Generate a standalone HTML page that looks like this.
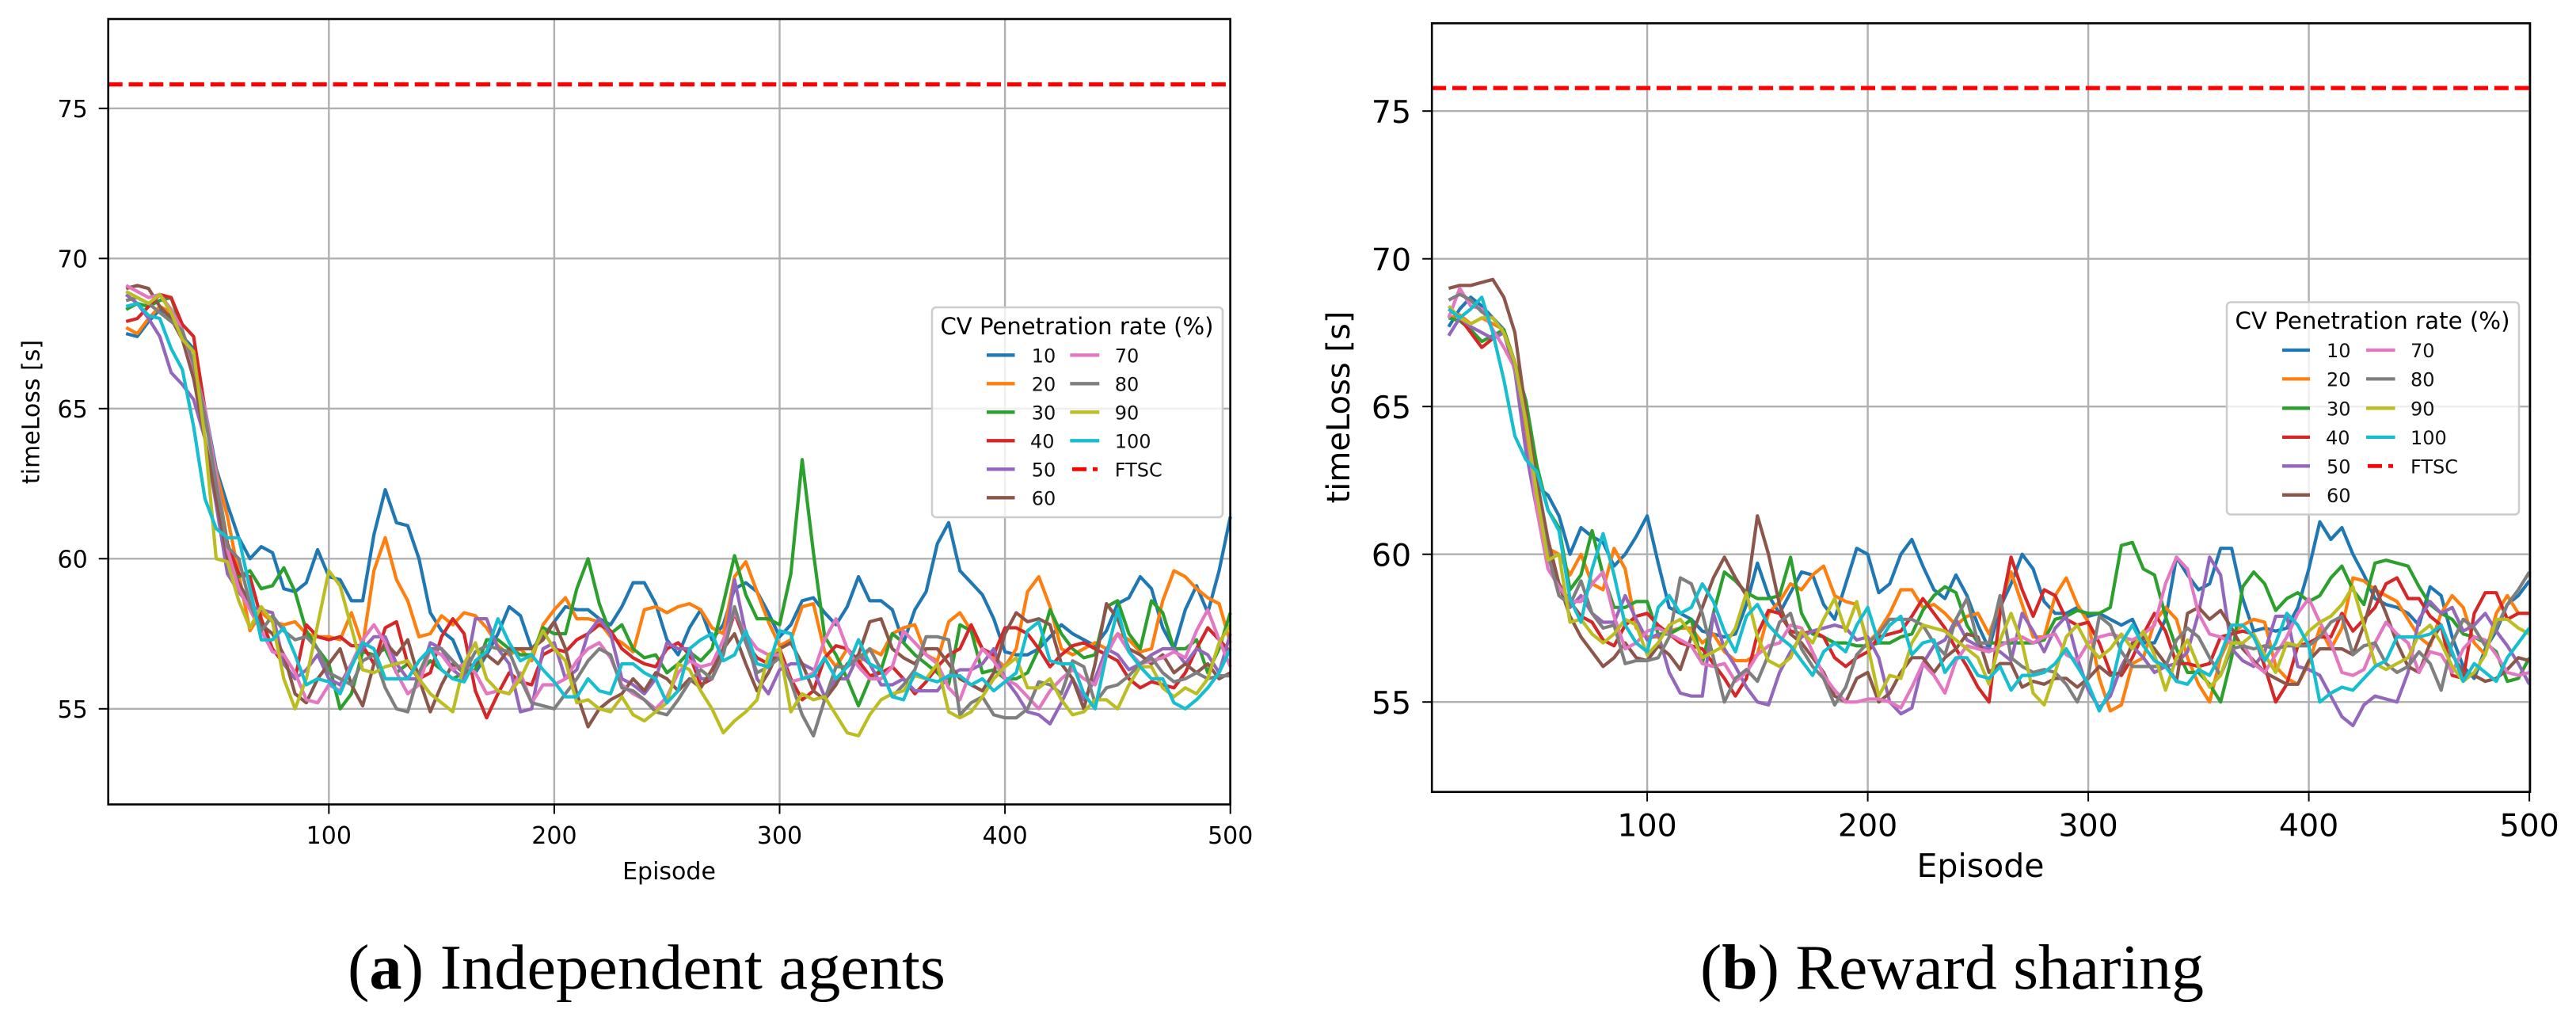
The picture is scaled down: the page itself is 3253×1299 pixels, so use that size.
<!DOCTYPE html>
<html lang="en">
<head>
<meta charset="utf-8">
<title>timeLoss per episode: Independent agents and Reward sharing</title>
<style>
html,body{margin:0;padding:0;background:#fff;}
svg{display:block;}
text{font-family:"DejaVu Sans","Liberation Sans",sans-serif;fill:#000;}
.caption{font-family:"Liberation Serif",serif;font-size:80px;}
.ent-a{font-size:24px;fill:#111;}
.ent-b{font-size:24px;fill:#111;}
</style>
</head>
<body>
<svg id="figure" xmlns="http://www.w3.org/2000/svg" width="3253" height="1299" viewBox="0 0 3253 1299">
  <rect x="0" y="0" width="3253" height="1299" fill="#ffffff"/>
  <g id="chart-a"></g>
  <g id="chart-b"></g>

  <text x="845" y="1110" font-size="30" text-anchor="middle">Episode</text>
  <text transform="translate(41,520) rotate(-90)" font-size="30" text-anchor="middle" dominant-baseline="middle">timeLoss [s]</text>
  <text x="2501" y="1107" font-size="41" text-anchor="middle">Episode</text>
  <text transform="translate(1693,514) rotate(-90)" font-size="40" text-anchor="middle" dominant-baseline="middle">timeLoss [s]</text>

  <g>
    <rect x="1177" y="388" width="367" height="265" rx="5" fill="#ffffff" fill-opacity="0.8" stroke="#cccccc" stroke-width="2.5"/>
    <text x="1360" y="422" font-size="29" text-anchor="middle" textLength="345" lengthAdjust="spacingAndGlyphs">CV Penetration rate (%)</text>
    <g><line x1="1246" x2="1281.5" y1="448.3" y2="448.3" stroke="#1f77b4" stroke-width="4.3"/><text class="ent-a" x="1302.7" y="457.3">10</text></g>
    <g><line x1="1246" x2="1281.5" y1="484.3" y2="484.3" stroke="#ff7f0e" stroke-width="4.3"/><text class="ent-a" x="1302.7" y="493.3">20</text></g>
    <g><line x1="1246" x2="1281.5" y1="520.3" y2="520.3" stroke="#2ca02c" stroke-width="4.3"/><text class="ent-a" x="1302.7" y="529.3">30</text></g>
    <g><line x1="1246" x2="1281.5" y1="556.3" y2="556.3" stroke="#d62728" stroke-width="4.3"/><text class="ent-a" x="1301" y="565.3">40</text></g>
    <g><line x1="1246" x2="1281.5" y1="592.3" y2="592.3" stroke="#9467bd" stroke-width="4.3"/><text class="ent-a" x="1302.7" y="601.3">50</text></g>
    <g><line x1="1246" x2="1281.5" y1="628.3" y2="628.3" stroke="#8c564b" stroke-width="4.3"/><text class="ent-a" x="1302.7" y="637.3">60</text></g>
    <g><line x1="1351.3" x2="1388.3" y1="448.3" y2="448.3" stroke="#e377c2" stroke-width="4.3"/><text class="ent-a" x="1407.7" y="457.3">70</text></g>
    <g><line x1="1351.3" x2="1388.3" y1="484.3" y2="484.3" stroke="#7f7f7f" stroke-width="4.3"/><text class="ent-a" x="1407.7" y="493.3">80</text></g>
    <g><line x1="1351.3" x2="1388.3" y1="520.3" y2="520.3" stroke="#bcbd22" stroke-width="4.3"/><text class="ent-a" x="1407.7" y="529.3">90</text></g>
    <g><line x1="1351.3" x2="1388.3" y1="556.3" y2="556.3" stroke="#17becf" stroke-width="4.3"/><text class="ent-a" x="1407.7" y="565.3">100</text></g>
    <g><line x1="1354" x2="1386" y1="592.3" y2="592.3" stroke="#ff0000" stroke-width="4.8" stroke-dasharray="18,8"/><text class="ent-a" x="1407.7" y="601.3">FTSC</text></g>
  </g>

  <g>
    <rect x="2812" y="381.5" width="369" height="268" rx="5" fill="#ffffff" fill-opacity="0.8" stroke="#cccccc" stroke-width="2.5"/>
    <text x="2996" y="415" font-size="29" text-anchor="middle" textLength="347" lengthAdjust="spacingAndGlyphs">CV Penetration rate (%)</text>
    <g><line x1="2882" x2="2917" y1="442" y2="442" stroke="#1f77b4" stroke-width="4.3"/><text class="ent-b" x="2938" y="451">10</text></g>
    <g><line x1="2882" x2="2917" y1="478.4" y2="478.4" stroke="#ff7f0e" stroke-width="4.3"/><text class="ent-b" x="2938" y="487.4">20</text></g>
    <g><line x1="2882" x2="2917" y1="515.3" y2="515.3" stroke="#2ca02c" stroke-width="4.3"/><text class="ent-b" x="2938" y="524.3">30</text></g>
    <g><line x1="2882" x2="2917" y1="551.9" y2="551.9" stroke="#d62728" stroke-width="4.3"/><text class="ent-b" x="2937" y="560.9">40</text></g>
    <g><line x1="2882" x2="2917" y1="588.3" y2="588.3" stroke="#9467bd" stroke-width="4.3"/><text class="ent-b" x="2938" y="597.3">50</text></g>
    <g><line x1="2882" x2="2917" y1="624.8" y2="624.8" stroke="#8c564b" stroke-width="4.3"/><text class="ent-b" x="2938" y="633.8">60</text></g>
    <g><line x1="2988" x2="3024.6" y1="442" y2="442" stroke="#e377c2" stroke-width="4.3"/><text class="ent-b" x="3044" y="451">70</text></g>
    <g><line x1="2988" x2="3024.6" y1="478.4" y2="478.4" stroke="#7f7f7f" stroke-width="4.3"/><text class="ent-b" x="3044" y="487.4">80</text></g>
    <g><line x1="2988" x2="3024.6" y1="515.3" y2="515.3" stroke="#bcbd22" stroke-width="4.3"/><text class="ent-b" x="3044" y="524.3">90</text></g>
    <g><line x1="2988" x2="3024.6" y1="551.9" y2="551.9" stroke="#17becf" stroke-width="4.3"/><text class="ent-b" x="3044" y="560.9">100</text></g>
    <g><line x1="2990" x2="3022" y1="588.3" y2="588.3" stroke="#ff0000" stroke-width="4.8" stroke-dasharray="18,8"/><text class="ent-b" x="3044" y="597.3">FTSC</text></g>
  </g>

  <text class="caption" x="439" y="1248" textLength="755" lengthAdjust="spacingAndGlyphs">(<tspan font-weight="bold">a</tspan>) Independent agents</text>
  <text class="caption" x="2147" y="1248" textLength="636" lengthAdjust="spacingAndGlyphs">(<tspan font-weight="bold">b</tspan>) Reward sharing</text>
</svg>

<script>
// Shared axis values
const xTickLabels = [100, 200, 300, 400, 500];
const yTickLabels = [55, 60, 65, 70, 75];
const seriesNames = ["10", "20", "30", "40", "50", "60", "70", "80", "90", "100"];
const seriesColors = ["#1f77b4", "#ff7f0e", "#2ca02c", "#d62728", "#9467bd", "#8c564b", "#e377c2", "#7f7f7f", "#bcbd22", "#17becf"];
const firstEpisode = 10;
const episodeStep = 5;
const ftscA = 75.8;
const ftscB = 75.78;

// (a) Independent agents: timeLoss sampled every 5 episodes from episode 10
const a10 = [67.5,67.4,67.9,68.3,68.1,67.4,67.0,65.0,63.0,61.8,60.7,60.0,60.4,60.2,59.0,58.9,59.2,60.3,59.4,
59.3,58.6,58.6,60.8,62.3,61.2,61.1,60.0,58.2,57.6,57.3,56.4,56.2,56.8,57.5,58.4,58.1,57.0,57.4,57.9,
58.4,58.3,58.3,58.0,57.8,58.4,59.2,59.2,58.5,57.3,56.8,57.7,58.3,57.3,57.8,59.0,59.2,58.9,58.2,57.4,
57.8,58.6,58.7,58.2,57.8,58.4,59.4,58.6,58.6,58.3,57.2,58.3,58.9,60.5,61.2,59.6,59.2,58.8,58.0,56.9,
56.8,56.8,57.0,57.4,57.8,57.5,57.3,57.1,57.6,58.5,58.7,59.4,59.0,57.7,57.0,58.3,59.1,58.2,59.6,61.4];
const a20 = [67.7,67.5,68.0,68.4,68.2,67.5,66.5,64.7,62.9,61.4,59.5,57.6,58.2,57.9,57.8,57.9,57.5,57.4,57.4,
57.3,58.2,57.1,59.6,60.7,59.3,58.6,57.4,57.5,58.1,57.8,58.2,58.1,57.7,57.1,56.8,57.0,56.6,57.8,58.3,
58.7,58.0,58.0,57.9,57.4,57.2,56.9,58.3,58.4,58.2,58.4,58.5,58.3,57.7,57.5,59.4,59.9,58.9,57.9,57.1,
57.3,58.4,58.5,56.9,56.4,57.0,56.5,57.0,56.8,57.5,57.7,57.8,56.8,56.6,57.9,58.2,57.6,57.0,56.7,56.4,
57.0,58.9,59.4,58.4,57.0,56.8,57.0,57.2,57.0,57.5,57.3,56.9,57.0,58.6,59.6,59.4,59.0,58.7,58.5,57.2];
const a30 = [68.3,68.5,68.4,68.6,68.7,67.6,66.3,64.7,62.8,60.5,59.4,59.6,59.0,59.1,59.7,58.9,57.6,57.0,56.5,
55.0,55.5,56.9,56.8,57.0,56.2,56.5,56.2,56.6,56.3,56.0,56.2,56.3,57.3,57.3,57.0,56.8,56.8,57.7,57.5,
57.5,59.0,60.0,58.5,57.5,57.8,57.0,56.7,56.8,56.2,56.5,56.9,56.6,57.0,58.5,60.1,58.8,58.0,58.0,57.8,
59.5,63.3,60.2,57.4,56.8,56.0,55.1,56.0,56.3,57.5,57.2,56.8,56.5,56.2,55.8,57.8,57.6,56.2,56.3,56.0,
56.0,56.2,57.0,58.3,57.5,57.0,56.7,56.8,58.4,58.6,57.5,57.0,58.6,58.2,57.0,57.0,57.3,56.2,57.0,58.2];
const a40 = [67.9,68.0,68.4,68.8,68.7,67.8,67.4,65.0,62.5,60.5,59.5,59.4,58.0,57.0,56.5,56.0,57.8,57.4,57.3,
57.4,57.1,57.1,56.5,57.7,57.9,56.5,56.0,56.2,57.4,58.0,57.5,55.6,54.7,55.5,56.2,55.9,55.8,56.8,57.0,
56.9,57.3,57.5,57.8,57.6,57.0,56.7,56.5,56.4,57.0,57.2,56.8,55.8,56.0,57.0,58.2,57.2,56.7,56.5,57.0,
56.0,55.3,55.6,56.7,57.1,57.0,56.6,56.1,56.2,56.4,56.0,55.5,55.9,56.4,56.8,57.0,57.8,57.0,56.8,57.7,
57.7,57.5,57.0,56.4,56.8,57.1,57.2,57.0,56.8,56.6,56.0,55.7,55.9,55.8,55.7,56.2,57.0,57.7,57.3,56.9];
const a50 = [68.8,68.5,68.0,67.4,66.2,65.8,65.3,64.0,61.8,59.5,58.9,58.4,58.3,58.2,56.5,56.0,56.3,56.8,56.0,
55.8,56.5,57.0,57.4,57.4,56.5,56.0,56.0,57.2,57.0,56.3,56.0,58.0,58.0,57.0,56.5,54.9,55.0,57.0,57.2,
56.0,56.3,57.5,58.0,57.5,56.0,55.8,55.5,56.0,57.2,57.0,57.0,56.0,56.0,56.8,59.3,57.5,56.0,55.5,56.3,
56.5,56.5,56.3,55.4,56.0,56.0,56.8,56.5,55.8,55.8,56.0,55.6,55.6,55.6,56.1,56.3,56.3,56.5,57.0,56.0,
55.5,54.9,54.8,54.5,55.2,56.0,55.3,56.0,57.0,56.8,56.3,56.5,56.8,57.0,57.0,56.5,57.0,56.8,56.2,57.5];
const a60 = [69.0,69.1,69.0,68.4,68.0,67.3,66.0,64.0,62.0,60.0,59.2,58.5,57.8,57.5,56.8,55.5,55.2,56.0,56.5,
57.0,55.8,55.1,56.5,57.2,56.8,57.3,56.0,54.9,55.8,56.5,56.2,56.5,56.8,56.5,57.0,57.0,57.0,57.3,57.9,
57.0,55.5,54.4,55.0,55.3,55.5,56.0,55.6,56.2,56.0,55.6,56.0,55.7,56.3,57.0,57.5,56.5,55.6,56.2,57.0,
57.2,56.5,55.6,55.3,55.8,56.5,56.8,57.9,58.0,57.0,56.7,56.5,57.0,57.0,56.5,56.0,55.8,55.6,56.2,57.5,
58.2,57.9,58.0,57.8,56.5,56.0,55.0,56.5,58.5,58.0,57.0,56.8,56.5,56.8,56.2,56.5,56.2,56.5,56.0,56.2];
const a70 = [69.1,68.9,68.7,68.8,68.3,67.6,66.4,65.0,62.8,60.3,59.0,58.3,57.6,56.9,56.8,56.2,55.3,55.2,55.8,
55.6,56.5,57.3,57.8,57.2,56.2,55.5,55.8,57.0,56.8,56.3,56.5,56.2,55.5,55.6,55.5,56.2,55.2,55.8,55.8,
56.0,56.6,57.0,57.2,56.7,55.8,55.5,55.3,55.0,55.4,56.2,56.6,56.4,56.5,57.3,58.2,57.5,57.0,56.8,56.8,
55.9,56.0,56.2,57.3,58.0,57.0,56.4,56.0,56.0,56.4,57.6,57.2,56.8,56.5,55.7,55.3,56.3,57.0,56.6,56.0,
55.8,55.4,55.0,55.6,56.0,56.3,56.0,55.8,56.8,57.5,56.9,56.5,56.6,56.7,56.9,56.7,57.6,58.3,57.3,56.4];
const a80 = [68.6,68.7,68.5,68.2,67.9,67.6,66.5,64.8,62.5,60.4,60.0,58.5,57.6,58.1,57.6,57.3,57.4,57.0,56.2,
56.0,55.8,56.6,56.8,55.7,55.0,54.9,56.2,57.0,57.0,56.6,56.2,56.9,57.1,57.0,56.9,56.0,55.2,55.1,55.0,
55.5,56.0,56.6,57.0,56.8,55.7,55.6,55.3,54.9,54.8,55.3,55.9,56.3,56.0,56.8,58.4,57.2,56.2,56.4,56.7,
55.9,54.8,54.1,55.3,56.4,56.4,56.7,57.0,56.3,55.4,55.8,56.3,57.4,57.4,57.3,54.8,55.2,55.4,54.8,54.7,
54.7,55.0,55.9,55.8,55.5,56.6,56.4,55.2,55.7,55.8,56.1,56.5,56.7,56.2,55.9,56.0,56.2,56.0,56.1,56.1];
const a90 = [68.9,68.7,68.5,68.8,68.2,67.3,66.9,64.0,60.0,59.9,58.6,57.7,58.4,57.9,56.0,55.0,56.0,57.8,59.6,
59.1,57.7,56.3,56.2,56.4,56.5,56.6,56.0,55.5,55.2,54.9,56.5,57.2,56.0,55.6,55.5,56.0,56.8,57.6,57.0,
56.6,55.2,55.3,55.0,54.9,55.4,54.8,54.6,54.9,55.2,56.5,56.3,55.6,55.0,54.2,54.6,54.9,55.3,56.8,57.0,
54.9,55.5,55.3,55.4,54.8,54.2,54.1,54.8,55.3,55.5,55.6,56.1,56.0,56.5,54.9,54.7,54.9,55.4,56.0,56.4,
56.7,55.7,55.7,56.0,55.3,54.8,54.9,55.3,55.3,55.0,55.8,56.4,56.4,55.7,55.4,55.7,55.5,56.0,57.2,57.8];
const a100 = [68.4,68.5,68.1,68.0,67.0,66.3,64.4,62.0,61.0,60.7,60.7,59.0,57.3,57.3,57.7,56.8,55.8,56.0,55.9,
55.5,56.4,57.2,57.0,56.0,56.0,56.0,56.6,57.0,56.3,56.0,55.9,56.6,56.9,58.0,57.2,56.6,56.8,56.3,55.9,
55.4,55.4,56.0,55.6,55.5,56.5,56.5,56.2,56.0,55.2,55.6,57.0,57.3,57.5,56.6,56.8,57.6,56.5,56.4,57.6,
57.5,56.0,56.1,56.7,56.0,56.4,57.3,56.5,56.3,55.4,55.3,56.2,56.0,55.9,56.1,56.1,55.8,56.0,55.6,55.9,
56.2,57.6,57.9,56.6,56.5,56.5,55.5,55.0,56.8,58.3,56.9,56.4,56.0,56.0,55.2,55.0,55.3,55.7,56.2,57.0];

// (b) Reward sharing: timeLoss sampled every 5 episodes from episode 10
const b10 = [67.7,68.3,68.7,68.4,68.0,67.6,66.3,63.8,62.3,62.0,61.3,60.0,60.9,60.6,60.4,59.6,60.0,60.6,61.3,
59.7,58.2,58.0,57.8,57.4,57.3,57.2,57.3,58.3,59.7,58.6,58.0,58.7,59.4,59.3,58.3,57.8,59.0,60.2,60.0,
58.7,59.0,60.0,60.5,59.6,58.8,58.5,59.3,58.6,57.6,56.8,58.2,59.0,60.0,59.5,58.4,58.0,58.0,58.2,57.9,
58.0,57.8,57.6,57.8,57.0,57.0,57.8,59.9,59.3,58.8,59.0,60.2,60.2,58.5,57.4,57.5,57.4,57.5,58.2,59.5,
61.1,60.5,60.9,60.0,59.3,58.5,58.3,58.2,58.0,57.6,58.9,58.6,57.2,56.2,55.8,56.8,57.4,58.3,58.6,59.1];
const b20 = [68.0,68.1,67.8,68.0,67.8,67.6,66.5,64.0,61.5,60.2,60.0,59.3,60.0,59.0,58.8,60.2,59.5,57.5,57.2,
57.2,57.4,57.5,57.5,57.0,57.3,56.7,56.4,56.4,56.6,58.0,58.4,59.0,58.8,59.3,59.6,58.6,58.4,58.3,57.0,
57.4,58.0,58.8,58.8,58.2,58.3,58.0,57.6,57.9,58.0,57.3,58.3,59.4,58.3,57.2,57.2,58.6,59.2,58.3,57.7,
55.8,54.7,54.9,56.3,56.5,57.7,58.2,57.8,56.5,55.6,55.0,56.5,57.3,57.6,57.8,57.7,56.2,55.8,55.6,56.3,
57.5,56.8,57.5,59.2,59.1,58.8,58.6,58.4,57.8,57.2,56.9,58.0,58.6,58.2,57.0,56.6,58.0,58.6,58.0,58.0];
const b30 = [68.0,67.9,67.6,67.2,67.4,67.6,66.5,65.2,63.0,61.5,60.9,58.8,59.3,60.8,59.3,58.2,58.2,58.4,58.4,
57.3,57.3,57.5,57.8,56.3,58.0,59.4,59.1,58.7,58.5,58.5,58.6,59.9,58.0,57.3,57.2,57.0,57.0,56.9,56.9,
57.0,57.0,57.2,57.3,58.1,58.6,58.9,58.7,57.6,57.0,57.0,57.0,57.0,57.0,57.0,57.1,57.8,57.9,58.1,58.0,
58.0,58.2,60.3,60.4,59.5,59.3,57.9,56.8,56.0,56.0,55.6,55.0,56.5,58.9,59.4,59.0,58.1,58.5,58.7,58.4,
58.6,59.2,59.6,58.8,58.3,59.7,59.8,59.7,59.6,58.9,58.3,58.0,57.8,57.3,57.2,57.0,56.7,55.7,55.8,56.5];
const b40 = [68.3,68.0,67.5,67.0,67.3,67.5,66.5,64.5,61.5,60.0,59.0,58.4,57.9,57.7,57.1,56.9,57.6,57.9,58.0,
57.6,57.3,57.0,56.9,56.8,56.3,55.8,55.2,55.8,57.3,58.1,58.0,57.4,57.3,57.4,57.2,56.5,56.2,56.5,56.7,
57.2,57.3,57.4,57.9,58.5,58.0,57.5,56.8,56.2,55.5,55.0,58.0,59.9,58.8,57.9,58.8,58.6,57.8,57.6,57.7,
57.0,56.0,55.9,56.5,57.3,58.0,57.4,56.3,56.3,56.2,56.3,57.2,57.3,57.4,57.3,56.2,55.0,55.6,56.9,57.0,
57.2,57.2,58.0,57.4,57.8,58.2,59.0,59.2,58.5,58.5,57.9,57.6,55.9,55.8,58.0,58.7,58.7,57.8,58.0,58.0];
const b50 = [67.4,68.0,67.7,67.5,67.3,67.5,66.2,63.5,61.5,59.9,59.0,58.2,58.6,58.0,57.7,57.7,58.6,57.8,57.1,
57.3,56.0,55.3,55.2,55.2,58.0,56.8,56.2,55.5,55.0,54.9,56.0,56.7,57.2,57.4,57.5,57.6,57.5,57.1,57.2,
56.5,55.0,54.6,54.8,56.3,56.9,57.1,57.8,57.1,56.9,56.8,56.7,56.4,58.0,57.4,56.7,57.5,57.9,56.5,55.4,
54.8,55.2,56.2,56.9,56.5,56.0,56.2,56.3,56.7,58.0,59.9,59.3,56.8,56.4,56.2,56.7,57.9,57.9,56.2,56.1,
55.9,55.2,54.5,54.2,54.9,55.2,55.1,55.0,56.0,57.8,58.4,58.0,58.2,57.4,57.6,58.0,57.4,56.9,56.3,55.6];
const b60 = [69.0,69.1,69.1,69.2,69.3,68.7,67.5,64.8,62.5,60.5,59.0,57.9,57.2,56.7,56.2,56.5,57.0,56.5,56.4,
56.9,56.6,56.1,57.2,58.2,59.2,59.9,59.2,58.6,61.3,60.0,58.3,57.3,57.0,56.5,56.0,55.2,55.0,55.8,56.0,
55.0,55.3,56.0,56.5,56.5,56.0,56.5,56.8,57.3,57.2,56.0,56.3,56.3,55.5,55.7,55.6,55.8,55.8,55.5,55.8,
56.2,55.9,56.0,57.0,57.2,56.8,56.3,55.7,58.0,58.2,57.8,58.1,57.5,56.8,56.4,56.0,55.8,55.6,55.6,56.4,
56.8,56.8,56.8,56.6,57.6,58.9,58.0,57.0,56.2,56.0,57.0,57.6,56.6,56.0,55.9,55.7,55.8,56.1,56.5,56.4];
const b70 = [68.0,69.0,68.4,68.3,67.6,67.0,66.3,64.5,61.5,59.5,58.9,58.4,58.4,59.0,59.4,57.9,56.8,57.0,57.4,
57.5,57.3,57.1,56.9,56.3,56.2,56.3,55.7,56.0,56.6,56.9,57.0,57.6,57.5,56.7,55.9,55.4,55.0,55.0,55.1,
55.1,55.0,54.8,55.5,56.3,55.9,55.3,56.4,56.9,56.8,56.7,56.9,57.1,57.2,57.0,57.2,57.3,56.6,56.4,57.0,
57.2,57.3,57.2,57.1,57.3,57.6,59.0,59.9,59.5,58.0,57.3,57.2,57.0,57.0,56.3,56.0,56.6,57.2,58.0,58.5,
57.7,57.0,56.0,55.9,56.1,57.0,57.7,57.3,57.0,56.0,56.7,56.6,56.0,56.8,57.2,57.1,56.6,56.0,55.9,56.0];
const b80 = [68.6,68.8,68.6,68.2,68.0,67.5,66.4,64.5,62.0,60.0,58.6,58.3,59.1,58.0,57.5,57.6,56.3,56.4,56.4,
56.5,57.2,59.2,59.0,58.0,56.5,55.0,55.8,56.1,55.7,56.6,57.7,58.0,56.8,56.2,55.8,54.9,55.5,56.6,57.0,
57.3,57.8,57.8,57.8,57.6,57.0,56.6,57.8,58.5,57.0,57.0,58.6,56.5,56.2,56.0,56.1,56.0,55.6,55.0,55.9,
57.9,57.6,56.7,56.2,56.2,56.2,56.2,57.1,57.5,57.2,56.5,55.9,56.8,56.9,56.8,56.9,56.8,56.9,56.9,56.9,
57.2,57.7,57.9,56.6,56.9,57.0,56.3,56.0,56.2,56.7,56.3,55.4,57.0,57.8,57.5,56.9,57.5,58.3,58.8,59.4];
const b90 = [68.4,68.0,67.8,68.0,68.0,67.5,66.5,64.5,62.0,59.8,60.0,57.7,57.8,57.3,57.0,57.3,57.8,57.6,56.6,
57.0,57.6,57.8,57.3,56.5,56.7,56.9,57.5,58.7,57.2,56.4,56.2,56.5,57.4,57.0,57.8,58.5,57.4,58.4,56.9,
55.2,55.9,55.8,57.0,57.6,57.5,57.4,57.1,56.8,56.5,55.6,57.1,58.0,57.0,55.3,54.9,56.0,57.2,57.6,56.9,
56.5,56.8,57.3,56.8,57.4,56.6,55.4,56.5,57.1,56.2,55.5,55.9,57.0,57.0,57.3,56.6,56.0,57.0,56.9,57.4,
57.7,57.9,58.3,58.9,57.6,56.3,56.1,56.3,56.5,57.3,57.6,57.0,56.2,55.7,56.0,56.6,57.8,57.8,57.5,57.3];
const b100 = [68.3,68.0,68.3,68.7,67.5,65.9,64.0,63.2,62.8,61.5,60.8,58.5,57.7,59.5,60.7,59.3,57.6,57.0,56.7,
58.2,58.6,58.0,58.2,59.0,58.4,57.4,56.7,57.9,58.3,57.6,57.2,56.9,56.4,55.9,56.7,57.0,56.7,57.6,58.2,
57.0,57.6,57.9,56.6,57.0,57.1,56.0,56.5,56.5,55.9,55.8,56.2,55.4,55.9,55.9,56.0,56.3,56.8,56.2,55.6,
54.7,55.4,57.0,57.6,56.9,56.4,56.2,55.7,55.6,56.1,55.9,56.6,57.6,57.6,57.2,56.4,57.0,58.0,57.6,56.9,
55.0,55.3,55.5,55.4,55.8,56.2,56.4,57.2,57.2,57.2,57.3,57.6,56.7,55.7,56.3,56.0,55.7,56.5,57.0,57.5];

const seriesA = [a10, a20, a30, a40, a50, a60, a70, a80, a90, a100];
const seriesB = [b10, b20, b30, b40, b50, b60, b70, b80, b90, b100];

const SVGNS = "http://www.w3.org/2000/svg";

function drawChart(groupId, suffix, frame, series, ftsc) {
  const root = document.getElementById(groupId);
  const xs = function (episode) { return frame.x100 + (episode - 100) * frame.pxPerEpisode; };
  const ys = function (value) { return frame.y70 + (70 - value) * frame.pxPerUnit; };

  // grid lines and ticks
  xTickLabels.forEach(function (tick) {
    const px = xs(tick);
    const grid = document.createElementNS(SVGNS, "line");
    grid.setAttribute("x1", px); grid.setAttribute("x2", px);
    grid.setAttribute("y1", frame.top); grid.setAttribute("y2", frame.bottom);
    grid.setAttribute("stroke", "#b0b0b0"); grid.setAttribute("stroke-width", "2.4");
    
    
    root.appendChild(grid);
    const mark = document.createElementNS(SVGNS, "line");
    mark.setAttribute("x1", px); mark.setAttribute("x2", px);
    mark.setAttribute("y1", frame.bottom); mark.setAttribute("y2", frame.bottom + 12);
    mark.setAttribute("stroke", "#000"); mark.setAttribute("stroke-width", "2");
    
    
    root.appendChild(mark);
    const label = document.createElementNS(SVGNS, "text");
    label.setAttribute("x", px); label.setAttribute("y", frame.xLabelY);
    label.setAttribute("font-size", frame.tickFont); label.setAttribute("text-anchor", "middle");
    label.textContent = tick;
    
    
    root.appendChild(label);
  });
  yTickLabels.forEach(function (tick) {
    const py = ys(tick);
    const grid = document.createElementNS(SVGNS, "line");
    grid.setAttribute("x1", frame.left); grid.setAttribute("x2", frame.right);
    grid.setAttribute("y1", py); grid.setAttribute("y2", py);
    grid.setAttribute("stroke", "#b0b0b0"); grid.setAttribute("stroke-width", "2.4");
    
    
    root.appendChild(grid);
    const mark = document.createElementNS(SVGNS, "line");
    mark.setAttribute("x1", frame.left - 12); mark.setAttribute("x2", frame.left);
    mark.setAttribute("y1", py); mark.setAttribute("y2", py);
    mark.setAttribute("stroke", "#000"); mark.setAttribute("stroke-width", "2");
    
    
    root.appendChild(mark);
    const label = document.createElementNS(SVGNS, "text");
    label.setAttribute("x", frame.left - 26); label.setAttribute("y", py + frame.tickFont * 0.38);
    label.setAttribute("font-size", frame.tickFont); label.setAttribute("text-anchor", "end");
    label.textContent = tick;
    
    
    root.appendChild(label);
  });

  // one polyline per penetration rate
  series.forEach(function (values, s) {
    let d = "";
    values.forEach(function (value, i) {
      const episode = firstEpisode + i * episodeStep;
      d += (i ? "L" : "M") + xs(episode).toFixed(1) + " " + ys(value).toFixed(1);
    });
    const path = document.createElementNS(SVGNS, "path");
    path.setAttribute("d", d);
    path.setAttribute("fill", "none");
    path.setAttribute("stroke", seriesColors[s]);
    path.setAttribute("stroke-width", "4.2");
    path.setAttribute("stroke-linejoin", "round");
    
    
    path.setAttribute("data-series", seriesNames[s] + "-" + suffix);
    root.appendChild(path);
  });

  // FTSC baseline
  const base = document.createElementNS(SVGNS, "line");
  base.setAttribute("x1", frame.left); base.setAttribute("x2", frame.right);
  base.setAttribute("y1", ys(ftsc)); base.setAttribute("y2", ys(ftsc));
  base.setAttribute("stroke", "#ff0000"); base.setAttribute("stroke-width", "5.2");
  base.setAttribute("stroke-dasharray", "18,7.8");
  
  
  root.appendChild(base);

  // axes frame
  const spine = document.createElementNS(SVGNS, "rect");
  spine.setAttribute("x", frame.left); spine.setAttribute("y", frame.top);
  spine.setAttribute("width", frame.right - frame.left);
  spine.setAttribute("height", frame.bottom - frame.top);
  spine.setAttribute("fill", "none"); spine.setAttribute("stroke", "#000"); spine.setAttribute("stroke-width", "2.6");
  
  
  root.appendChild(spine);
}

drawChart("chart-a", "a", {
  left: 136.7, right: 1553.6, top: 24, bottom: 1015.5,
  x100: 415.3, pxPerEpisode: 2.846, y70: 326.3, pxPerUnit: 37.9,
  tickFont: 30, xLabelY: 1065
}, seriesA, ftscA);

drawChart("chart-b", "b", {
  left: 1808.2, right: 3195, top: 29.4, bottom: 999.7,
  x100: 2080.1, pxPerEpisode: 2.785, y70: 326.7, pxPerUnit: 37.3,
  tickFont: 39.5, xLabelY: 1055.5
}, seriesB, ftscB);
</script>
</body>
</html>
